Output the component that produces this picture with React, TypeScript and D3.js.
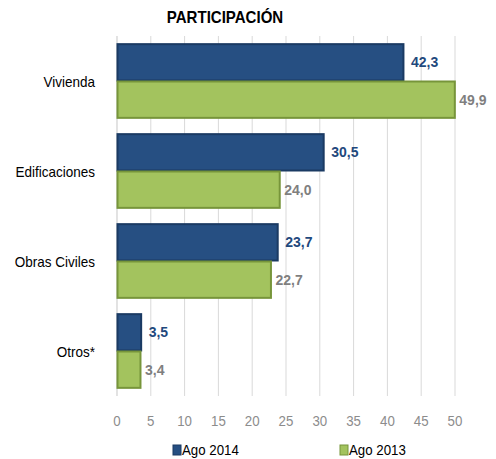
import React from "react";
import * as d3 from "d3";

const categories = ["Vivienda", "Edificaciones", "Obras Civiles", "Otros*"];
const seriesNames = ["Ago 2014", "Ago 2013"];
const ago2014 = [42.3, 30.5, 23.7, 3.5];
const ago2013 = [49.9, 24.0, 22.7, 3.4];
const xTicks = [0, 5, 10, 15, 20, 25, 30, 35, 40, 45, 50];

const W = 496, H = 459;
const left = 117, right = 455, top = 36, bottom = 396;
const fills = ["#264F82", "#A3C35E"];
const strokes = ["#1A3A63", "#77953A"];
const labelColors = ["#1F497D", "#7F7F7F"];
const labelOffsets = [8, 5];
const font = "'Liberation Sans', Arial, sans-serif";

function T(props: { x: number; y: number; sx?: number; children: React.ReactNode; [k: string]: any }) {
  const { x, y, sx = 1, children, ...rest } = props;
  return (
    <text transform={`translate(${x},${y}) scale(${sx},1)`} {...rest}>{children}</text>
  );
}

export default function App() {
  const x = d3.scaleLinear().domain([0, 50]).range([left, right]);
  const y = d3.scaleBand().domain(categories).range([top, bottom]).paddingInner(0.17).paddingOuter(0.085);
  const inner = d3.scaleBand().domain(seriesNames).range([0, y.bandwidth()]);
  const series = [ago2014, ago2013];
  const fmt = (v: number) => v.toFixed(1).replace(".", ",");
  return (
    <svg width={W} height={H} style={{ position: "absolute", left: 0, top: 0 }} fontFamily={font}>
      <rect width={W} height={H} fill="#fff" />
      <T x={225} y={23} sx={0.94} textAnchor="middle" fontWeight="bold" fontSize={16} fill="#000">PARTICIPACIÓN</T>
      {xTicks.map((t) => (
        <line key={t} x1={x(t)} x2={x(t)} y1={top} y2={bottom} stroke="#D9D9D9" strokeWidth={1} />
      ))}
      <line x1={left} x2={left} y1={top} y2={bottom} stroke="#D9D9D9" />
      {categories.map((c, i) => (
        <g key={c}>
          <T x={95} y={(y(c) as number) + y.bandwidth() / 2 + 6} sx={0.9} textAnchor="end" fontSize={15} fill="#000">{c}</T>
          {series.map((s, j) => {
            const yy = (y(c) as number) + (inner(seriesNames[j]) as number);
            const h = inner.bandwidth();
            return (
              <g key={j}>
                <rect x={x(0) + 0.5} y={yy + 0.5} width={x(s[i]) - x(0)} height={h - 1}
                  fill={fills[j]} stroke={strokes[j]} strokeWidth={2} />
                <text x={x(s[i]) + labelOffsets[j]} y={yy + h / 2 + 5} fontSize={14} fontWeight="bold" fill={labelColors[j]}>{fmt(s[i])}</text>
              </g>
            );
          })}
        </g>
      ))}
      {xTicks.map((t) => (
        <T key={t} x={x(t)} y={426} sx={0.95} textAnchor="middle" fontSize={14} fill="#8C8C8C">{t}</T>
      ))}
      {seriesNames.map((n, j) => {
        const lx = j === 0 ? 173 : 340;
        return (
          <g key={n}>
            <rect x={lx} y={445} width={8} height={10} fill={fills[j]} stroke={strokes[j]} />
            <T x={lx + 9} y={455} sx={0.95} fontSize={14} fill="#000">{n}</T>
          </g>
        );
      })}
    </svg>
  );
}
